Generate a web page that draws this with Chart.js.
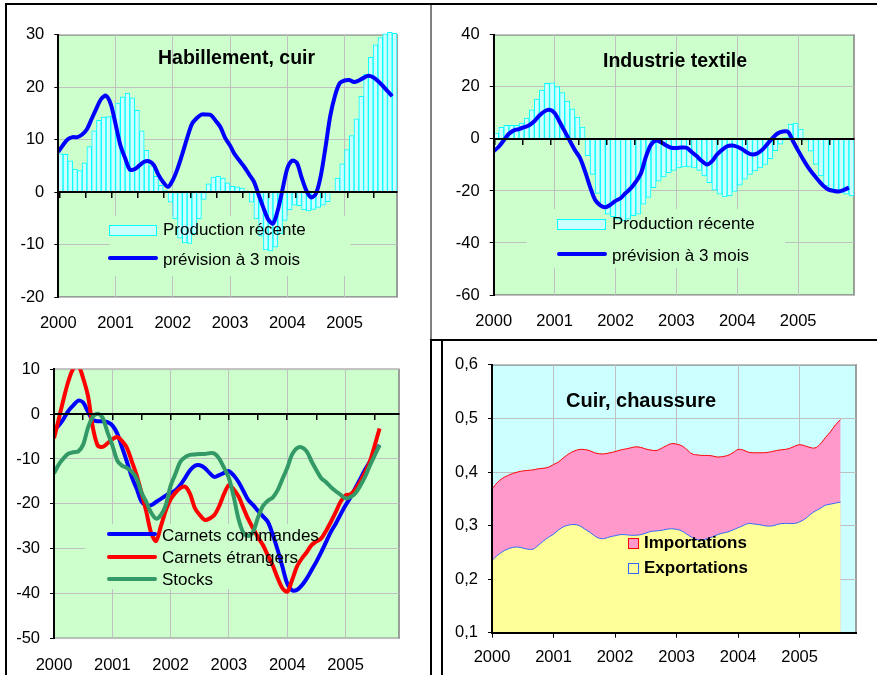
<!DOCTYPE html>
<html lang="fr">
<head>
<meta charset="utf-8">
<title>Textile, habillement, cuir</title>
<script src="https://cdn.jsdelivr.net/npm/chart.js@4.4.1/dist/chart.umd.min.js"></script>
<style>
  body { margin: 0; background: #fff; font-family: "Liberation Sans", Arial, sans-serif; }
  #page { position: relative; width: 877px; height: 675px; overflow: hidden; }
  canvas { position: absolute; }
  .rule { position: absolute; background: #000; z-index: 2; }
  .txt { position: absolute; white-space: nowrap; color: #000; font-size: 17px; line-height: 20px; z-index: 3; }
  .title { font-weight: bold; font-size: 19.5px; line-height: 22px; }
  .swatch { position: absolute; box-sizing: border-box; z-index: 3; }
</style>
</head>
<body>
<div id="page">
  <canvas id="habChart" width="402" height="330" style="left:8px;top:15px"></canvas>
  <canvas id="texChart" width="425" height="325" style="left:440px;top:15px"></canvas>
  <canvas id="carChart" width="420" height="330" style="left:8px;top:345px"></canvas>
  <canvas id="cuirChart" width="430" height="330" style="left:445px;top:345px"></canvas>

  <!-- table rules -->
  <div class="rule" style="left:5px;top:3px;width:872px;height:2px"></div>
  <div class="rule" style="left:5px;top:3px;width:2px;height:672px"></div>
  <div class="rule" style="left:430px;top:5px;width:2px;height:335px;background:#808080"></div>
  <div class="rule" style="left:430px;top:339px;width:447px;height:2px"></div>
  <div class="rule" style="left:430px;top:339px;width:2px;height:336px"></div>
  <div class="rule" style="left:441px;top:339px;width:2px;height:336px"></div>

  <!-- Habillement, cuir -->
  <div class="txt title" style="left:158px;top:46px">Habillement, cuir</div>
  <div class="swatch" style="left:109px;top:225px;width:48px;height:11px;background:#ccffff;border:1px solid #00ffff"></div>
  <div class="txt" style="left:163px;top:220px">Production récente</div>
  <div class="swatch" style="left:108px;top:256px;width:50px;height:4px;background:#0000ff;border-radius:2px"></div>
  <div class="txt" style="left:163px;top:250px">prévision à 3 mois</div>

  <!-- Industrie textile -->
  <div class="txt title" style="left:603px;top:49px">Industrie textile</div>
  <div class="swatch" style="left:557px;top:219px;width:49px;height:11px;background:#ccffff;border:1px solid #00ffff"></div>
  <div class="txt" style="left:612px;top:214px">Production récente</div>
  <div class="swatch" style="left:557px;top:252px;width:50px;height:4px;background:#0000ff;border-radius:2px"></div>
  <div class="txt" style="left:612px;top:246px">prévision à 3 mois</div>

  <!-- carnets -->
  <div class="swatch" style="left:107px;top:532px;width:50px;height:4px;background:#0000ff;border-radius:2px"></div>
  <div class="txt" style="left:162px;top:526px">Carnets commandes</div>
  <div class="swatch" style="left:107px;top:555px;width:50px;height:4px;background:#ff0000;border-radius:2px"></div>
  <div class="txt" style="left:162px;top:548px">Carnets étrangers</div>
  <div class="swatch" style="left:107px;top:577px;width:50px;height:4px;background:#339966;border-radius:2px"></div>
  <div class="txt" style="left:162px;top:570px">Stocks</div>

  <!-- Cuir, chaussure -->
  <div class="txt title" style="left:566px;top:389px;font-size:20px">Cuir, chaussure</div>
  <div class="swatch" style="left:628px;top:538px;width:11px;height:11px;background:#ff99cc;border:1px solid #ff0000"></div>
  <div class="txt" style="left:644px;top:533px;font-weight:bold">Importations</div>
  <div class="swatch" style="left:628px;top:563px;width:11px;height:11px;background:#ffff99;border:1px solid #3366ff"></div>
  <div class="txt" style="left:644px;top:558px;font-weight:bold">Exportations</div>
</div>

<script>
// monthly series starting January 2000, x axis counts months
const yearLabels = ['2000', '2001', '2002', '2003', '2004', '2005'];

// Habillement, cuir
const habProduction = [7.3, 7.2, 6.0, 4.4, 4.1, 5.6, 8.7, 11.7, 13.7, 14.3, 14.4, 14.5,
  17.0, 18.2, 18.9, 18.0, 15.6, 11.7, 8.0, 5.0, 3.0, 1.3, 0.3, -1.9,
  -5.1, -8.8, -9.7, -9.8, -7.9, -5.1, -1.4, 1.6, 2.9, 3.0, 2.7, 1.8,
  1.1, 1.0, 0.8, 0.2, -1.9, -5.1, -8.4, -11.0, -11.2, -10.5, -7.9, -5.4,
  -3.4, -2.5, -2.6, -3.4, -3.6, -3.3, -2.9, -2.5, -1.8, 0.0, 2.7, 5.4,
  8.1, 10.8, 14.0, 18.3, 22.5, 25.7, 28.1, 29.5, 30.2, 30.5, 30.3];
const habForecast = [7.7, 9.0, 10.1, 10.5, 10.5, 11.0, 12.0, 14.0, 16.0, 17.8, 18.4, 16.8,
  13.0, 9.0, 6.5, 4.3, 4.4, 5.1, 5.8, 5.9, 5.2, 3.3, 1.9, 1.0,
  2.3, 4.5, 7.3, 10.3, 13.0, 14.1, 14.8, 14.8, 14.7, 13.6, 12.4, 10.3,
  8.9, 7.2, 6.0, 4.8, 3.4, 2.0, -0.5, -3.0, -5.2, -6.0, -3.5, 0.5,
  4.5, 6.0, 5.6, 2.8, 0.3, -1.0, -0.3, 3.0, 8.5, 14.5, 18.4, 20.8,
  21.3, 21.4, 21.0, 21.3, 21.8, 22.2, 21.9, 21.2, 20.3, 19.3, 18.3];

// Industrie textile
const texProduction = [2.3, 4.5, 5.2, 5.2, 5.2, 6.1, 8.0, 11.2, 15.3, 18.8, 21.4, 21.6,
  20.1, 17.8, 14.6, 11.6, 8.4, 4.6, -6.4, -13.6, -20.9, -25.7, -28.9, -29.9,
  -30.8, -31.4, -30.8, -29.5, -28.9, -25.1, -22.5, -18.7, -16.2, -14.6, -13.0, -12.1,
  -11.1, -10.8, -10.8, -11.1, -12.1, -14.2, -16.8, -19.7, -21.2, -22.3, -21.9, -20.2,
  -17.8, -15.5, -13.6, -12.3, -11.1, -9.8, -7.6, -4.5, -2.0, 0.5, 5.7, 6.1,
  3.8, -0.5, -4.7, -9.8, -14.2, -18.1, -19.3, -20.0, -20.6, -21.2, -21.9];
const texForecast = [-4.7, -3.0, -0.5, 2.0, 3.3, 3.8, 4.5, 5.3, 6.8, 9.0, 10.6, 11.2,
  10.0, 6.5, 2.9, -0.7, -4.3, -7.3, -12.5, -18.5, -23.5, -25.5, -26.3, -25.3,
  -23.8, -22.8, -20.8, -19.0, -16.5, -13.3, -6.8, -2.2, -0.6, -1.3, -2.5, -3.4,
  -3.5, -3.3, -3.4, -5.0, -6.6, -8.5, -9.8, -8.6, -6.0, -4.2, -2.8, -2.5,
  -3.0, -4.0, -5.3, -6.0, -5.5, -4.0, -1.8, 0.4, 2.2, 2.9, 2.7, -0.9,
  -4.5, -7.9, -11.0, -13.6, -16.0, -18.1, -19.5, -20.0, -20.2, -19.6, -18.7];

// carnets et stocks
const carnetsCommandes = [-3.6, -2.5, -1.0, 0.8, 2.0, 3.0, 2.6, 0.5, -1.3, -1.6, -1.6, -1.8,
  -2.5, -4.3, -7.4, -10.6, -14.0, -16.6, -19.5, -20.4, -20.3, -19.6, -18.9, -18.2,
  -17.6, -17.0, -15.8, -14.2, -12.5, -11.5, -11.4, -12.0, -13.1, -14.0, -13.6, -13.1,
  -12.7, -13.7, -15.2, -17.2, -19.2, -20.3, -21.6, -22.8, -24.0, -26.8, -30.2, -34.0,
  -37.8, -39.3, -39.2, -38.2, -36.7, -34.8, -32.9, -30.8, -28.5, -26.2, -24.4, -22.3,
  -20.3, -18.6, -16.5, -14.5, -12.4, -10.6, -8.7, -6.9];
const carnetsEtrangers = [-5.4, -1.0, 3.5, 7.5, 10.2, 10.8, 8.0, 4.0, -3.0, -7.0, -7.3, -6.5,
  -5.6, -5.1, -6.0, -7.5, -10.5, -13.6, -17.5, -21.8, -26.5, -28.3, -25.0, -21.5,
  -19.0, -17.5, -16.5, -16.2, -17.8, -21.0, -22.5, -23.6, -23.3, -22.5, -20.5, -17.8,
  -15.8, -16.8, -18.4, -21.0, -23.5, -25.5, -27.5, -29.2, -31.5, -33.7, -36.5, -38.8,
  -39.6, -37.0, -34.0, -32.2, -30.8, -29.2, -28.4, -27.7, -26.0, -24.0, -21.8, -19.5,
  -18.1, -17.9, -16.8, -15.1, -13.0, -10.6, -7.0, -3.2];
const stocks = [-13.2, -11.2, -9.8, -8.8, -8.5, -8.3, -6.8, -3.0, -0.6, 0.1, -0.8, -4.0,
  -6.9, -10.3, -11.5, -12.0, -12.8, -14.3, -17.5, -19.6, -22.0, -23.3, -22.5, -20.3,
  -16.0, -13.3, -10.6, -9.6, -9.1, -9.0, -8.9, -8.9, -8.7, -8.8, -9.9, -12.0,
  -14.3, -18.5, -23.5, -26.5, -27.2, -26.2, -23.0, -20.5, -19.3, -18.6, -17.0, -14.5,
  -12.0, -9.0, -7.6, -7.4, -8.3, -10.5, -12.5, -14.3, -15.2, -16.3, -17.2, -18.0,
  -18.8, -18.5, -17.7, -16.0, -14.0, -11.5, -9.2, -6.9];

// Cuir, chaussure
const importations = [0.368, 0.380, 0.388, 0.393, 0.397, 0.400, 0.402, 0.403, 0.404, 0.406, 0.407, 0.409,
  0.414, 0.419, 0.427, 0.434, 0.439, 0.442, 0.442, 0.440, 0.436, 0.434, 0.434, 0.436,
  0.438, 0.441, 0.443, 0.445, 0.447, 0.446, 0.443, 0.441, 0.440, 0.444, 0.449, 0.453,
  0.452, 0.449, 0.442, 0.434, 0.432, 0.431, 0.431, 0.430, 0.428, 0.429, 0.431, 0.436,
  0.442, 0.441, 0.437, 0.436, 0.436, 0.436, 0.437, 0.439, 0.441, 0.442, 0.444, 0.448,
  0.451, 0.449, 0.446, 0.445, 0.452, 0.464, 0.475, 0.488, 0.498];
const exportations = [0.235, 0.244, 0.251, 0.256, 0.259, 0.260, 0.258, 0.256, 0.256, 0.263, 0.271, 0.278,
  0.284, 0.292, 0.298, 0.301, 0.302, 0.300, 0.294, 0.288, 0.281, 0.276, 0.276, 0.279,
  0.281, 0.283, 0.283, 0.282, 0.282, 0.283, 0.286, 0.289, 0.290, 0.291, 0.293, 0.294,
  0.293, 0.290, 0.284, 0.278, 0.274, 0.273, 0.276, 0.279, 0.283, 0.286, 0.288, 0.292,
  0.296, 0.300, 0.304, 0.303, 0.302, 0.300, 0.299, 0.300, 0.303, 0.304, 0.304, 0.304,
  0.307, 0.312, 0.320, 0.327, 0.332, 0.338, 0.340, 0.342, 0.344];

Chart.defaults.font.family = '"Liberation Sans", Arial, sans-serif';
Chart.defaults.font.size = 16.5;
Chart.defaults.color = '#000';

// plot area background + grey frame, and a plain patch behind the legend
const plotFrame = {
  id: 'plotFrame',
  beforeDraw(chart, args, opts) {
    const { ctx, chartArea: a } = chart;
    ctx.save();
    ctx.fillStyle = opts.fill;
    ctx.fillRect(a.left, a.top, a.width, a.height);
    ctx.strokeStyle = '#808080';
    ctx.lineWidth = 1.5;
    ctx.strokeRect(a.left, a.top, a.width, a.height);
    ctx.restore();
  },
  beforeDatasetsDraw(chart, args, opts) {
    const c = opts.cover;
    if (!c) return;
    const { ctx, scales } = chart;
    const x0 = scales.x.getPixelForValue(c.x0), x1 = scales.x.getPixelForValue(c.x1);
    const y0 = scales.y.getPixelForValue(c.y0), y1 = scales.y.getPixelForValue(c.y1);
    ctx.save();
    ctx.fillStyle = opts.fill;
    ctx.fillRect(x0, y0, x1 - x0, y1 - y0);
    ctx.restore();
  }
};

function toPoints(values, shift) {
  return values.map((v, i) => ({ x: i + shift, y: v }));
}

function panelOptions(g) {
  const scales = {
    x: {
      type: 'linear', min: 0, max: 71, offset: false,
      afterFit: s => { s.height = g.xHeight; },
      ticks: {
        stepSize: 12, includeBounds: false, maxRotation: 0, autoSkip: false,
        padding: g.xPad, callback: v => yearLabels[v / 12]
      },
      grid: { color: '#c0c0c0', offset: false, drawTicks: !!g.bottomTicks, tickLength: 5, tickColor: '#000' },
      border: { display: !!g.bottomTicks, color: '#000', width: 2, z: 1 }
    },
    y: {
      min: g.yMin, max: g.yMax,
      afterFit: s => { s.width = g.yWidth; },
      ticks: { stepSize: g.yStep, padding: 10, callback: g.yFormat || (v => v) },
      grid: { color: '#c0c0c0', tickLength: 4, tickColor: '#000' },
      border: { color: '#000', width: 2, z: 1 }
    }
  };
  if (g.zeroLine) {
    // the category axis crosses at zero with half-year tick marks
    scales.x2 = {
      type: 'linear', min: 0, max: 71, position: { y: 0 },
      ticks: { display: false, stepSize: 6, includeBounds: false, maxTicksLimit: 20 },
      grid: { drawOnChartArea: false, drawTicks: true, tickLength: 5, tickColor: '#000', lineWidth: 1.5, z: 1 },
      border: { color: '#000', width: 2, z: 1 }
    };
  }
  return {
    responsive: false,
    animation: false,
    events: [],
    layout: { padding: { top: g.padTop, right: g.padRight, left: 0, bottom: 0 } },
    plugins: {
      legend: { display: false },
      tooltip: { enabled: false },
      plotFrame: { fill: g.fill, cover: g.cover }
    },
    scales
  };
}

function barSet(values) {
  return {
    type: 'bar', data: toPoints(values, 0.5), order: 2,
    backgroundColor: '#ccffff', borderColor: '#00ffff', borderWidth: 1,
    barPercentage: 1, categoryPercentage: 1,
    clip: { left: 0, top: false, right: 0, bottom: 0 }
  };
}

function lineSet(values, color, order) {
  return {
    type: 'line', data: toPoints(values, 0), order: order,
    borderColor: color, borderWidth: 4, pointRadius: 0, tension: 0.3, fill: false
  };
}

new Chart(document.getElementById('habChart'), {
  type: 'bar',
  data: { datasets: [lineSet(habForecast, '#0000ff', 1), barSet(habProduction)] },
  options: panelOptions({
    yMin: -20, yMax: 30, yStep: 10, yWidth: 50.3, xHeight: 48, xPad: 17,
    padTop: 19.5, padRight: 13, zeroLine: true, fill: '#ccffcc',
    cover: { x0: 10.8, x1: 61.2, y0: -4.5, y1: -16 }
  }),
  plugins: [plotFrame]
});

new Chart(document.getElementById('texChart'), {
  type: 'bar',
  data: { datasets: [lineSet(texForecast, '#0000ff', 1), barSet(texProduction)] },
  options: panelOptions({
    yMin: -60, yMax: 40, yStep: 20, yWidth: 53.7, xHeight: 45, xPad: 17,
    padTop: 18.3, padRight: 11, zeroLine: true, fill: '#ccffcc',
    cover: { x0: 6.5, x1: 57.4, y0: -27, y1: -49.5 }
  }),
  plugins: [plotFrame]
});

new Chart(document.getElementById('carChart'), {
  type: 'line',
  data: {
    datasets: [
      lineSet(carnetsCommandes, '#0000ff', 3),
      lineSet(carnetsEtrangers, '#ff0000', 2),
      lineSet(stocks, '#339966', 1)
    ]
  },
  options: panelOptions({
    yMin: -50, yMax: 10, yStep: 10, yWidth: 46, xHeight: 36.7, xPad: 17,
    padTop: 24.3, padRight: 29, zeroLine: true, fill: '#ccffcc',
    cover: { x0: 6.4, x1: 54.7, y0: -24.5, y1: -39 }
  }),
  plugins: [plotFrame]
});

new Chart(document.getElementById('cuirChart'), {
  type: 'line',
  data: {
    datasets: [
      {
        label: 'Importations', data: toPoints(importations, 0), order: 2,
        borderColor: '#ff0000', borderWidth: 1, backgroundColor: '#ff99cc',
        fill: 'start', pointRadius: 0, tension: 0.4
      },
      {
        label: 'Exportations', data: toPoints(exportations, 0), order: 1,
        borderColor: '#3366ff', borderWidth: 1, backgroundColor: '#ffff99',
        fill: 'start', pointRadius: 0, tension: 0.4
      }
    ]
  },
  options: panelOptions({
    yMin: 0.1, yMax: 0.6, yStep: 0.1, yWidth: 47, xHeight: 42.3, xPad: 10,
    padTop: 19.3, padRight: 19, zeroLine: false, bottomTicks: true, fill: '#ccffff',
    yFormat: v => v.toFixed(1).replace('.', ',')
  }),
  plugins: [plotFrame]
});
</script>
</body>
</html>
